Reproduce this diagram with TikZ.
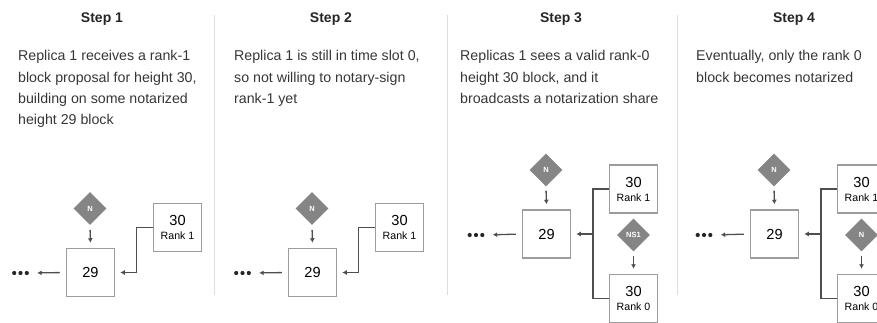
\documentclass[tikz,border=0pt]{standalone}
\usepackage{fontspec}
\setmainfont{Liberation Sans}
\usetikzlibrary{shapes.geometric,arrows.meta}

\definecolor{bodytext}{HTML}{363636}
\definecolor{headtext}{HTML}{262626}
\definecolor{boxline}{HTML}{9C9C9C}
\definecolor{wire}{HTML}{4E4E4E}
\definecolor{badge}{HTML}{858585}
\definecolor{divider}{HTML}{DEDEDE}

\tikzset{
  header/.style={anchor=base, inner sep=0, text=headtext,
    font=\fontsize{14}{16}\selectfont\bfseries},
  para/.style={anchor=north west, inner sep=0, align=left, text=bodytext,
    font=\fontsize{14.2}{21.4}\selectfont},
  block/.style={draw=boxline, line width=1.5pt, minimum width=48pt,
    minimum height=48pt, inner sep=0, align=center, text=black,
    font=\fontsize{14.6}{15}\selectfont},
  badgenode/.style={diamond, fill=badge, minimum width=33pt, minimum height=33pt,
    aspect=1, inner sep=0, text=white, font=\fontsize{7.5}{8}\selectfont\bfseries},
  dotsnode/.style={minimum width=19pt, minimum height=5pt, inner sep=0,
    path picture={\foreach \i in {-1,0,1}
      \fill[black!85] ([xshift=\i*6.3pt]path picture bounding box.center) circle (2.1pt);}},
  link/.style={draw=wire, line width=1.3pt},
  arrow/.style={link, -{Latex[length=4.5pt,width=5pt]}},
  rulerline/.style={draw=divider, line width=1pt},
}

\newcommand{\rankbox}[1]{30\\[-1pt]{\fontsize{10.6}{12}\selectfont Rank #1}}

\begin{document}
\begin{tikzpicture}[x=1pt,y=-1pt]
\useasboundingbox (0,0) rectangle (877,323);
\clip (0,0) rectangle (877,323);

% column dividers
\draw[rulerline] (214,15) -- (214,295);
\draw[rulerline] (447,15) -- (447,295);
\draw[rulerline] (677.5,15) -- (677.5,295);

% headings
\node[header] (h1) at (102,23) {Step 1};
\node[header] (h2) at (331,23) {Step 2};
\node[header] (h3) at (561,23) {Step 3};
\node[header] (h4) at (794,23) {Step 4};

% descriptions
\node[para] (p1) at (18,50.2) {Replica 1 receives a rank-1\\block proposal for height 30,\\building on some notarized\\height 29 block};
\node[para] (p2) at (234,50.2) {Replica 1 is still in time slot 0,\\so not willing to notary-sign\\rank-1 yet};
\node[para] (p3) at (460,50.2) {Replicas 1 sees a valid rank-0\\height 30 block, and it\\broadcasts a notarization share};
\node[para] (p4) at (696,50.2) {Eventually, only the rank 0\\block becomes notarized};

% ---- Step 1 ----
\node[badgenode] (n1) at (90,208.5) {N};
\node[block] (a29) at (90.5,272.5) {29};
\node[block] (a30) at (177.5,227.5) {\rankbox{1}};
\node[dotsnode] (ad) at (20.5,273) {};
\draw[arrow, shorten <=5pt, shorten >=5pt] (n1.south) -- (a29.north);
\draw[arrow, shorten <=6pt, shorten >=7pt] (a29.west) -- (ad.east);
\draw[arrow, shorten >=5pt] (a30.west) -- ++(-16,0) |- (a29.east);

% ---- Step 2 ----
\node[badgenode] (n2) at (312,208.5) {N};
\node[block] (b29) at (312.5,272.5) {29};
\node[block] (b30) at (399.5,227.5) {\rankbox{1}};
\node[dotsnode] (bd) at (242.5,273) {};
\draw[arrow, shorten <=5pt, shorten >=5pt] (n2.south) -- (b29.north);
\draw[arrow, shorten <=6pt, shorten >=7pt] (b29.west) -- (bd.east);
\draw[arrow, shorten >=5pt] (b30.west) -- ++(-16,0) |- (b29.east);

% ---- Step 3 ----
\node[badgenode] (n3) at (546,170) {N};
\node[block] (c29) at (546.5,234) {29};
\node[block] (c31) at (633.5,189) {\rankbox{1}};
\node[block] (c30) at (633.5,298.5) {\rankbox{0}};
\node[badgenode] (s3) at (633.5,235) {NS1};
\node[dotsnode] (cd) at (476,235) {};
\coordinate (j3) at (593,234);
\draw[arrow, shorten <=4pt, shorten >=5pt] (n3.south) -- (c29.north);
\draw[arrow, shorten <=6pt, shorten >=7pt] (c29.west) -- (cd.east);
\draw[link] (c31.west) -| (j3) |- (c30.west);
\draw[arrow, shorten >=5pt] (j3) -- (c29.east);
\draw[arrow, shorten <=4pt, shorten >=5pt] (s3.south) -- (c30.north);

% ---- Step 4 ----
\node[badgenode] (n4) at (774,170) {N};
\node[block] (d29) at (774.5,234) {29};
\node[block] (d31) at (861.5,189) {\rankbox{1}};
\node[block] (d30) at (861.5,298.5) {\rankbox{0}};
\node[badgenode] (s4) at (861.5,235) {N};
\node[dotsnode] (dd) at (704,235) {};
\coordinate (j4) at (821,234);
\draw[arrow, shorten <=4pt, shorten >=5pt] (n4.south) -- (d29.north);
\draw[arrow, shorten <=6pt, shorten >=7pt] (d29.west) -- (dd.east);
\draw[link] (d31.west) -| (j4) |- (d30.west);
\draw[arrow, shorten >=5pt] (j4) -- (d29.east);
\draw[arrow, shorten <=4pt, shorten >=5pt] (s4.south) -- (d30.north);
\end{tikzpicture}
\end{document}
